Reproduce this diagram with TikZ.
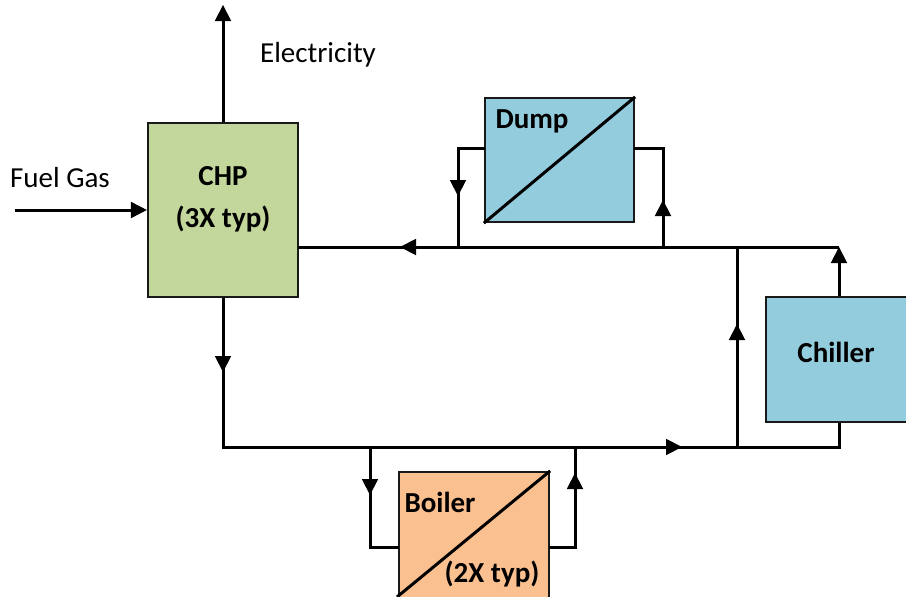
\documentclass[tikz,border=0pt]{standalone}
\usepackage{fontspec}
\setmainfont{Carlito}
\usetikzlibrary{arrows.meta}
\tikzset{
  boxnode/.style={draw=black!90,line width=2.2pt,inner sep=0pt},
  pipe/.style={draw=black,line width=3pt,line cap=butt,line join=miter},
  tip/.style={pipe,-{Triangle[length=16pt,width=16.5pt,line width=0pt]}},
  plain/.style={inner sep=0pt,font=\fontsize{29}{34}\selectfont},
  strong/.style={inner sep=0pt,font=\fontsize{29}{34}\selectfont\bfseries},
  split/.style={draw=black,line width=3pt}
}
\definecolor{chpgreen}{HTML}{C3D69B}
\definecolor{coolblue}{HTML}{93CDDD}
\definecolor{boilerorange}{HTML}{FAC090}
\begin{document}
\begin{tikzpicture}[x=1pt,y=-1pt]
\useasboundingbox (0,0) rectangle (906,597);
% boxes
\node[boxnode,fill=chpgreen,minimum width=150pt,minimum height=174pt] (chp) at (223,210) {};
\node[boxnode,fill=coolblue,minimum width=149pt,minimum height=124pt] (dump) at (559.5,160) {};
\node[boxnode,fill=coolblue,minimum width=146pt,minimum height=125pt] (chiller) at (839,359.5) {};
\node[boxnode,fill=boilerorange,minimum width=150pt,minimum height=127pt] (boiler) at (474,535.5) {};
% labels
\node[strong] (chplabel) at (223,176) {CHP};
\node[strong] (chpnote) at (223,219) {(3X typ)};
\node[strong] (dumplabel) at (532,121) {Dump};
\node[strong] (chillerlabel) at (836,352) {Chiller};
\node[strong] (boilerlabel) at (440,502) {Boiler};
\node[strong] (boilernote) at (492,574) {(2X typ)};
\node[plain] (elec) at (318,55) {Electricity};
\node[plain] (fuel) at (60,178) {Fuel Gas};
% splitter diagonals
\draw[split] (dump.south west) -- (dump.north east);
\coordinate (bstart) at (397,597);
\draw[split] (bstart) -- (boiler.north east);
% junction and waypoint coordinates
\coordinate (elecend) at (223,5);
\coordinate (fuelstart) at (15,210);
\coordinate (topright) at (839,247);
\coordinate (chpout) at (298,247);
\coordinate (toparrow) at (400,247);
\coordinate (dumpL) at (458,247);
\coordinate (dumpLup) at (458,148);
\coordinate (dumpLin) at (485,148);
\coordinate (dumpLa) at (458,196);
\coordinate (dumpR) at (663,247);
\coordinate (dumpRup) at (663,148);
\coordinate (dumpRin) at (634,148);
\coordinate (dumpRa) at (663,200);
\coordinate (riserTop) at (737,247);
\coordinate (riserBot) at (737,447);
\coordinate (riserA) at (737,324);
\coordinate (botleft) at (223,447);
\coordinate (botright) at (839,447);
\coordinate (botA) at (682,447);
\coordinate (chpdownA) at (223,372);
\coordinate (boilL) at (370,447);
\coordinate (boilLd) at (370,547);
\coordinate (boilLin) at (399,547);
\coordinate (boilLa) at (370,495);
\coordinate (boilR) at (575,447);
\coordinate (boilRd) at (575,547);
\coordinate (boilRin) at (549,547);
\coordinate (boilRa) at (575,473);
% connectors
\draw[tip] (chp.north) -- (elecend);
\draw[tip] (fuelstart) -- (fuelstart -| chp.west);
\draw[pipe] (topright) -- (chpout);
\draw[tip] (topright) -- (toparrow);
\draw[pipe] (dumpLin) -- (dumpLup) -- (dumpL);
\draw[tip] (dumpLup) -- (dumpLa);
\draw[pipe] (dumpR) -- (dumpRup) -- (dumpRin);
\draw[tip] (dumpR) -- (dumpRa);
\draw[tip] (chiller.north) -- (topright);
\draw[pipe] (chiller.south) -- (botright) -- (botleft) -- (chp.south);
\draw[tip] (chp.south) -- (chpdownA);
\draw[tip] (botleft) -- (botA);
\draw[pipe] (riserBot) -- (riserTop);
\draw[tip] (riserBot) -- (riserA);
\draw[pipe] (boilL) -- (boilLd) -- (boilLin);
\draw[tip] (boilL) -- (boilLa);
\draw[pipe] (boilRin) -- (boilRd) -- (boilR);
\draw[tip] (boilRd) -- (boilRa);
\end{tikzpicture}
\end{document}
